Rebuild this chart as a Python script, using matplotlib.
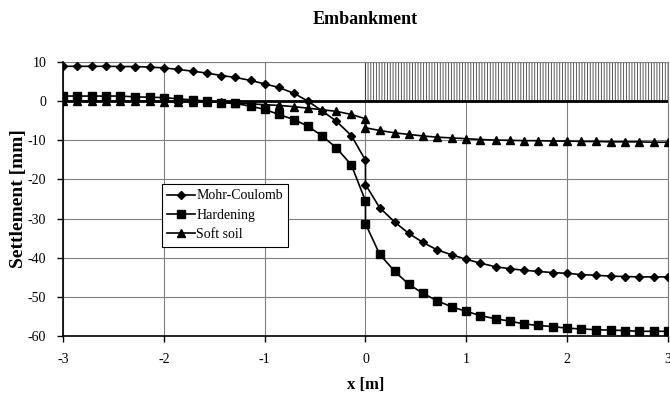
"""Embankment settlement profiles for three soil models."""

import matplotlib
import matplotlib.pyplot as plt

matplotlib.use("Agg")

plt.rcParams["font.family"] = ["Liberation Serif", "DejaVu Serif"]
plt.rcParams["axes.unicode_minus"] = False
plt.rcParams["hatch.linewidth"] = 0.6

x_m = [
    -3.00, -2.86, -2.71, -2.57, -2.43, -2.29, -2.14, -2.00, -1.86, -1.71, -1.57,
    -1.43, -1.29, -1.14, -1.00, -0.86, -0.71, -0.57, -0.43, -0.29, -0.14, 0.00,
    0.00, 0.14, 0.29, 0.43, 0.57, 0.71, 0.86, 1.00, 1.14, 1.29, 1.43,
    1.57, 1.71, 1.86, 2.00, 2.14, 2.29, 2.43, 2.57, 2.71, 2.86, 3.00,
]
mohr_coulomb = [
    8.9, 8.9, 8.9, 8.9, 8.85, 8.85, 8.7, 8.5, 8.1, 7.65, 7.15,
    6.55, 6.05, 5.3, 4.4, 3.5, 2.0, 0.0, -2.5, -5.1, -8.8, -15.1,
    -21.3, -27.2, -30.9, -33.8, -36.1, -38.0, -39.3, -40.4, -41.4, -42.3, -42.8,
    -43.2, -43.5, -43.8, -44.0, -44.3, -44.5, -44.7, -44.8, -44.9, -44.9, -44.9,
]
hardening = [
    1.3, 1.3, 1.3, 1.3, 1.3, 1.1, 1.0, 0.9, 0.6, 0.3, 0.0,
    -0.4, -0.6, -1.3, -2.1, -3.4, -4.7, -6.4, -8.9, -11.9, -16.3, -25.5,
    -31.3, -39.1, -43.5, -46.8, -49.1, -51.0, -52.6, -53.7, -54.8, -55.6, -56.2,
    -56.9, -57.3, -57.6, -58.0, -58.2, -58.4, -58.5, -58.6, -58.8, -58.8, -58.8,
]
soft_soil = [
    0.0, 0.0, 0.0, 0.0, 0.0, 0.0, -0.05, -0.1, -0.1, -0.15, -0.2,
    -0.3, -0.5, -0.7, -0.9, -1.1, -1.4, -1.8, -2.2, -2.6, -3.4, -4.5,
    -6.8, -7.5, -8.1, -8.5, -8.9, -9.2, -9.4, -9.6, -9.8, -9.95, -10.0,
    -10.1, -10.1, -10.2, -10.2, -10.3, -10.3, -10.4, -10.4, -10.4, -10.5, -10.5,
]
embankment_x = [0.0, 3.0]
embankment_top = 10.0
x_ticks = [-3, -2, -1, 0, 1, 2, 3]
y_ticks = [10, 0, -10, -20, -30, -40, -50, -60]


def main() -> None:
    fig = plt.figure(figsize=(6.7, 4.0), dpi=100)
    ax = fig.add_axes([0.094, 0.16, 0.903, 0.685])

    # embankment body, hatched
    ax.fill_between(
        embankment_x, 0, embankment_top,
        facecolor="white", edgecolor="#404040", hatch="||||||", linewidth=0.8, zorder=1,
    )
    ax.axhline(0, color="black", linewidth=2.0, zorder=2)

    ax.plot(x_m, mohr_coulomb, color="black", marker="D", markersize=4, linewidth=1.2,
            label="Mohr-Coulomb", zorder=4)
    ax.plot(x_m, hardening, color="black", marker="s", markersize=6, linewidth=1.2,
            label="Hardening", zorder=4)
    ax.plot(x_m, soft_soil, color="black", marker="^", markersize=6, linewidth=1.2,
            label="Soft soil", zorder=4)

    ax.set_xlim(-3, 3)
    ax.set_ylim(-60, 10)
    ax.set_xticks(x_ticks)
    ax.set_yticks(y_ticks)
    ax.grid(True, color="#808080", linewidth=0.8)
    ax.set_axisbelow(True)
    for side in ("top", "right"):
        ax.spines[side].set_color("#808080")
        ax.spines[side].set_linewidth(0.8)
    for side in ("left", "bottom"):
        ax.spines[side].set_linewidth(1.2)
    ax.tick_params(direction="out", length=4, width=1, labelsize=10, pad=8)

    fig.text(0.545, 0.95, "Embankment", fontsize=13, fontweight="bold",
             ha="center", va="center")
    ax.set_xlabel("x [m]", fontsize=12, fontweight="bold", labelpad=8)
    ax.set_ylabel("Settlement [mm]", fontsize=14, fontweight="bold")
    ax.yaxis.set_label_coords(-0.060, 0.5)

    leg = ax.legend(loc="upper left", bbox_to_anchor=(0.163, 0.555), fontsize=10,
                    frameon=True, fancybox=False, handlelength=2.0, borderpad=0.4,
                    labelspacing=0.45, handletextpad=0.1, borderaxespad=0)
    leg.get_frame().set_edgecolor("black")
    leg.get_frame().set_linewidth(0.8)
    leg.get_frame().set_alpha(1)

    fig.savefig("out.png", dpi=100)
    plt.close(fig)


if __name__ == "__main__":
    main()
